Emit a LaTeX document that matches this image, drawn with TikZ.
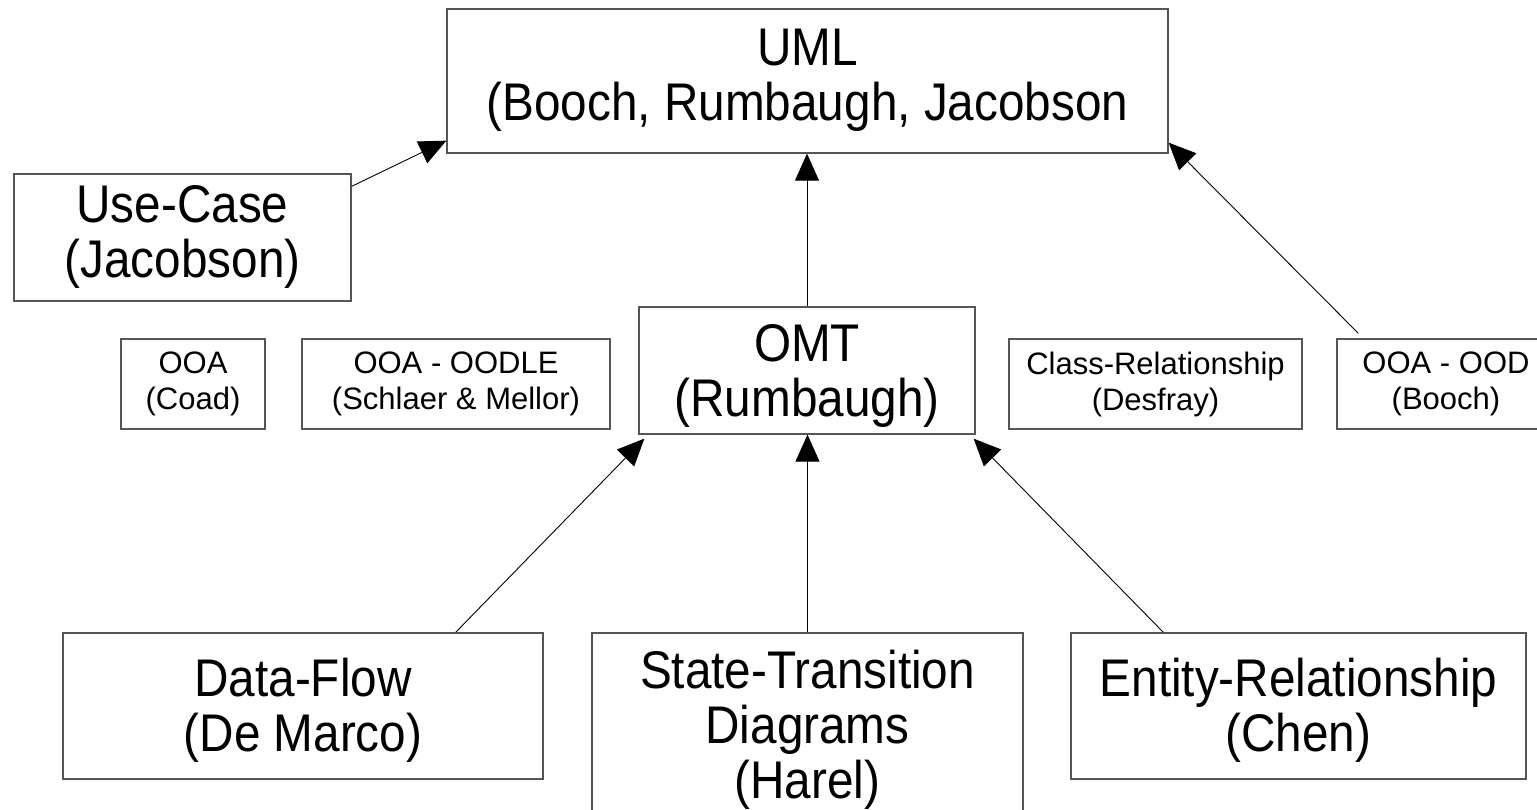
\documentclass[tikz,border=0pt]{standalone}
\usepackage{fontspec}
\setmainfont{Liberation Sans}
\newfontfamily\tallfont[FakeStretch=0.9]{Liberation Sans}
\usetikzlibrary{arrows.meta,calc}
\definecolor{boxgray}{RGB}{85,85,85}
% fixed first-line height and last-line depth for the big labels
\newcommand\firstline{\rule{0pt}{48pt}}
\newcommand\lastline{\rule[-12pt]{0pt}{12pt}}

\begin{document}
\begin{tikzpicture}[x=1pt,y=-1pt,
  box/.style={draw=boxgray, line width=1.3pt, fill=white, align=center,
    inner sep=0pt, font=\tallfont\fontsize{53}{55}\selectfont},
  smallbox/.style={draw=boxgray, line width=1.3pt, fill=white, align=center,
    inner sep=0pt, font=\fontsize{31}{36}\selectfont},
  link/.style={line width=0.9pt, -{Triangle[length=27pt,width=24pt]}},
]
\useasboundingbox (0,0) rectangle (1537,810);
\clip (0,0) rectangle (1537,810);

% top level
\node[box, minimum width=721pt, minimum height=144pt] (uml) at (807.5,81)
  {UML\\(Booch, Rumbaugh, Jacobson\lastline};
\node[box, minimum width=337pt, minimum height=127pt] (uc) at (182.5,237.5)
  {Use-Case\\(Jacobson)\lastline};

% middle row
\node[smallbox, minimum width=144pt, minimum height=90pt] (coad) at (193,384)
  {OOA\\(Coad)};
\node[smallbox, minimum width=308pt, minimum height=90pt] (oodle) at (456,384)
  {OOA - OODLE\\(Schlaer \& Mellor)};
\node[box, minimum width=336pt, minimum height=127pt] (omt) at (807,370.5)
  {\firstline OMT\\(Rumbaugh)\lastline};
\node[smallbox, minimum width=293pt, minimum height=90pt] (cr) at (1155.5,384)
  {Class-Relationship\\(Desfray)};
\node[smallbox, minimum width=218pt, minimum height=90pt] (ood) at (1446,384)
  {OOA - OOD\\(Booch)};

% bottom row
\node[box, minimum width=480pt, minimum height=146pt] (df) at (303,706)
  {\firstline Data-Flow\\(De Marco)\lastline};
\node[box, minimum width=431pt, minimum height=184pt] (st) at (807.5,725)
  {\firstline State-Transition\\Diagrams\\(Harel)\lastline};
\node[box, minimum width=455pt, minimum height=146pt] (er) at (1298.5,706)
  {\firstline Entity-Relationship\\(Chen)\lastline};

% connectors
\draw[link] ($(uc.north east)+(0,13)$) -- ($(uml.south west)+(0,-13)$);
\draw[link] (omt.north) -- (omt.north |- uml.south);
\draw[link] ($(ood.north west)+(22,-5)$) -- ($(uml.south east)+(0,-11)$);
\draw[link] ($(df.north east)+(-88,0)$) -- ($(omt.south west)+(6,4)$);
\draw[link] (st.north) -- (st.north |- omt.south);
\draw[link] ($(er.north west)+(93,0)$) -- ($(omt.south east)+(-2,4)$);
\end{tikzpicture}
\end{document}
